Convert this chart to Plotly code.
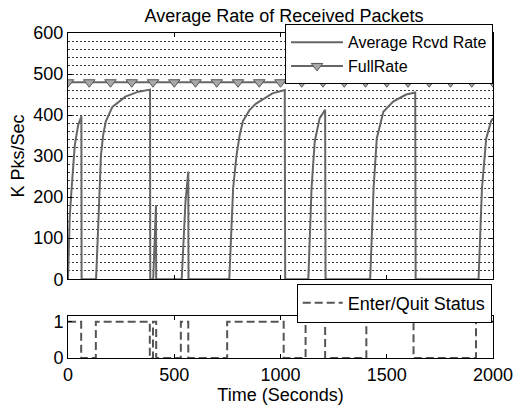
import plotly.graph_objects as go

# Average received rate (K Pks/Sec) vs time (s)
rate_t = [0, 3, 8, 17, 32, 48, 63, 64,
          132, 140, 147, 155, 165, 178, 209, 270, 332, 386, 387,
          401, 414, 415,
          535, 553, 566, 567,
          759, 777, 793, 808, 823, 854, 885, 962, 1020, 1022,
          1131, 1138, 1146, 1161, 1184, 1210, 1212,
          1422, 1430, 1438, 1453, 1484, 1530, 1591, 1634, 1636,
          1932, 1940, 1948, 1968, 1991, 2000]
rate_v = [0, 60, 150, 221, 327, 376, 397, 0,
          0, 100, 200, 302, 350, 385, 420, 445, 457, 462, 0,
          0, 180, 0,
          0, 190, 262, 0,
          0, 221, 302, 351, 385, 412, 428, 453, 461, 0,
          0, 110, 221, 335, 392, 413, 0,
          0, 110, 221, 343, 408, 433, 450, 455, 0,
          0, 110, 221, 343, 385, 392]

# Full rate reference line
full_t = [0, 100, 200, 300, 400, 500, 600, 700, 800, 900, 1000,
          1100, 1200, 1300, 1400, 1500, 1600, 1700, 1800, 1900, 2000]
full_v = [480, 480, 480, 480, 480, 480, 480, 480, 480, 480, 480,
          480, 480, 480, 480, 480, 480, 480, 480, 480, 480]

# Enter/Quit status (step)
status_t = [0, 62, 131, 385, 400, 415, 531, 566, 749, 1015, 1118, 1210, 1404, 1626, 1920, 2000]
status_v = [1, 0, 1, 0, 1, 0, 1, 0, 1, 0, 1, 0, 1, 0, 1, 1]

x_ticks = [0, 500, 1000, 1500, 2000]
y_ticks_top = [0, 100, 200, 300, 400, 500, 600]
y_ticks_bot = [0, 1]

FONT = "Liberation Sans, Arial, sans-serif"
FS = 18
LINE = "#666666"
GRID = "#3a3a3a"

fig = go.Figure()
fig.add_trace(go.Scatter(x=rate_t, y=rate_v, mode="lines", name="Average Rcvd Rate",
                         line=dict(color=LINE, width=2), xaxis="x", yaxis="y", legend="legend"))
fig.add_trace(go.Scatter(x=full_t, y=full_v, mode="lines+markers", name="FullRate",
                         line=dict(color=LINE, width=2),
                         marker=dict(symbol="triangle-down", size=10, color="#a8a8a8",
                                     line=dict(color="#555555", width=1)),
                         xaxis="x", yaxis="y", legend="legend"))
fig.add_trace(go.Scatter(x=status_t, y=status_v, mode="lines", name="Enter/Quit Status",
                         line=dict(color="#555555", width=2, dash="8px,4px", shape="hv"),
                         xaxis="x2", yaxis="y2", legend="legend2"))

axis_common = dict(showline=True, linecolor="black", linewidth=1, mirror="ticks",
                   ticks="inside", ticklen=4, tickcolor="black", zeroline=False,
                   tickfont=dict(family=FONT, size=FS, color="black"))

fig.update_layout(
    width=525, height=409,
    margin=dict(l=68, r=23, t=33, b=49),
    paper_bgcolor="white", plot_bgcolor="white",
    font=dict(family=FONT, size=FS, color="black"),
    title=dict(text="Average Rate of Received Packets", x=0.541, xref="container", xanchor="center",
               y=0.962, yref="container", yanchor="middle",
               font=dict(family=FONT, size=FS, color="black")),
    showlegend=True,
    xaxis=dict(domain=[0, 1], range=[0, 2000], anchor="y", tickvals=x_ticks,
               showticklabels=False, showgrid=False, **axis_common),
    yaxis=dict(domain=[0.2425, 1], range=[0, 600], anchor="x", tickvals=y_ticks_top,
               showgrid=True, gridcolor=GRID, griddash="2px,2px", gridwidth=1,
               minor=dict(dtick=20, showgrid=True, gridcolor=GRID, griddash="2px,2px", gridwidth=1),
               title=dict(text="K Pks/Sec", font=dict(family=FONT, size=FS, color="black"), standoff=4),
               **axis_common),
    xaxis2=dict(domain=[0, 1], range=[0, 2000], anchor="y2", tickvals=x_ticks,
                showgrid=False,
                title=dict(text="Time (Seconds)", font=dict(family=FONT, size=FS, color="black"), standoff=0),
                **axis_common),
    yaxis2=dict(domain=[0, 0.128], range=[0, 1.15], anchor="x2", tickvals=y_ticks_bot,
                showgrid=False, **axis_common),
    legend=dict(x=1, xanchor="right", y=1.027, yanchor="top", bgcolor="white",
                bordercolor="black", borderwidth=1, font=dict(family=FONT, size=16, color="black"),
                tracegroupgap=0, itemwidth=52),
    legend2=dict(x=0.997, xanchor="right", y=0.229, yanchor="top", bgcolor="white",
                 bordercolor="black", borderwidth=1, font=dict(family=FONT, size=FS, color="black"),
                 itemwidth=40),
)

fig.write_html("out.html")
